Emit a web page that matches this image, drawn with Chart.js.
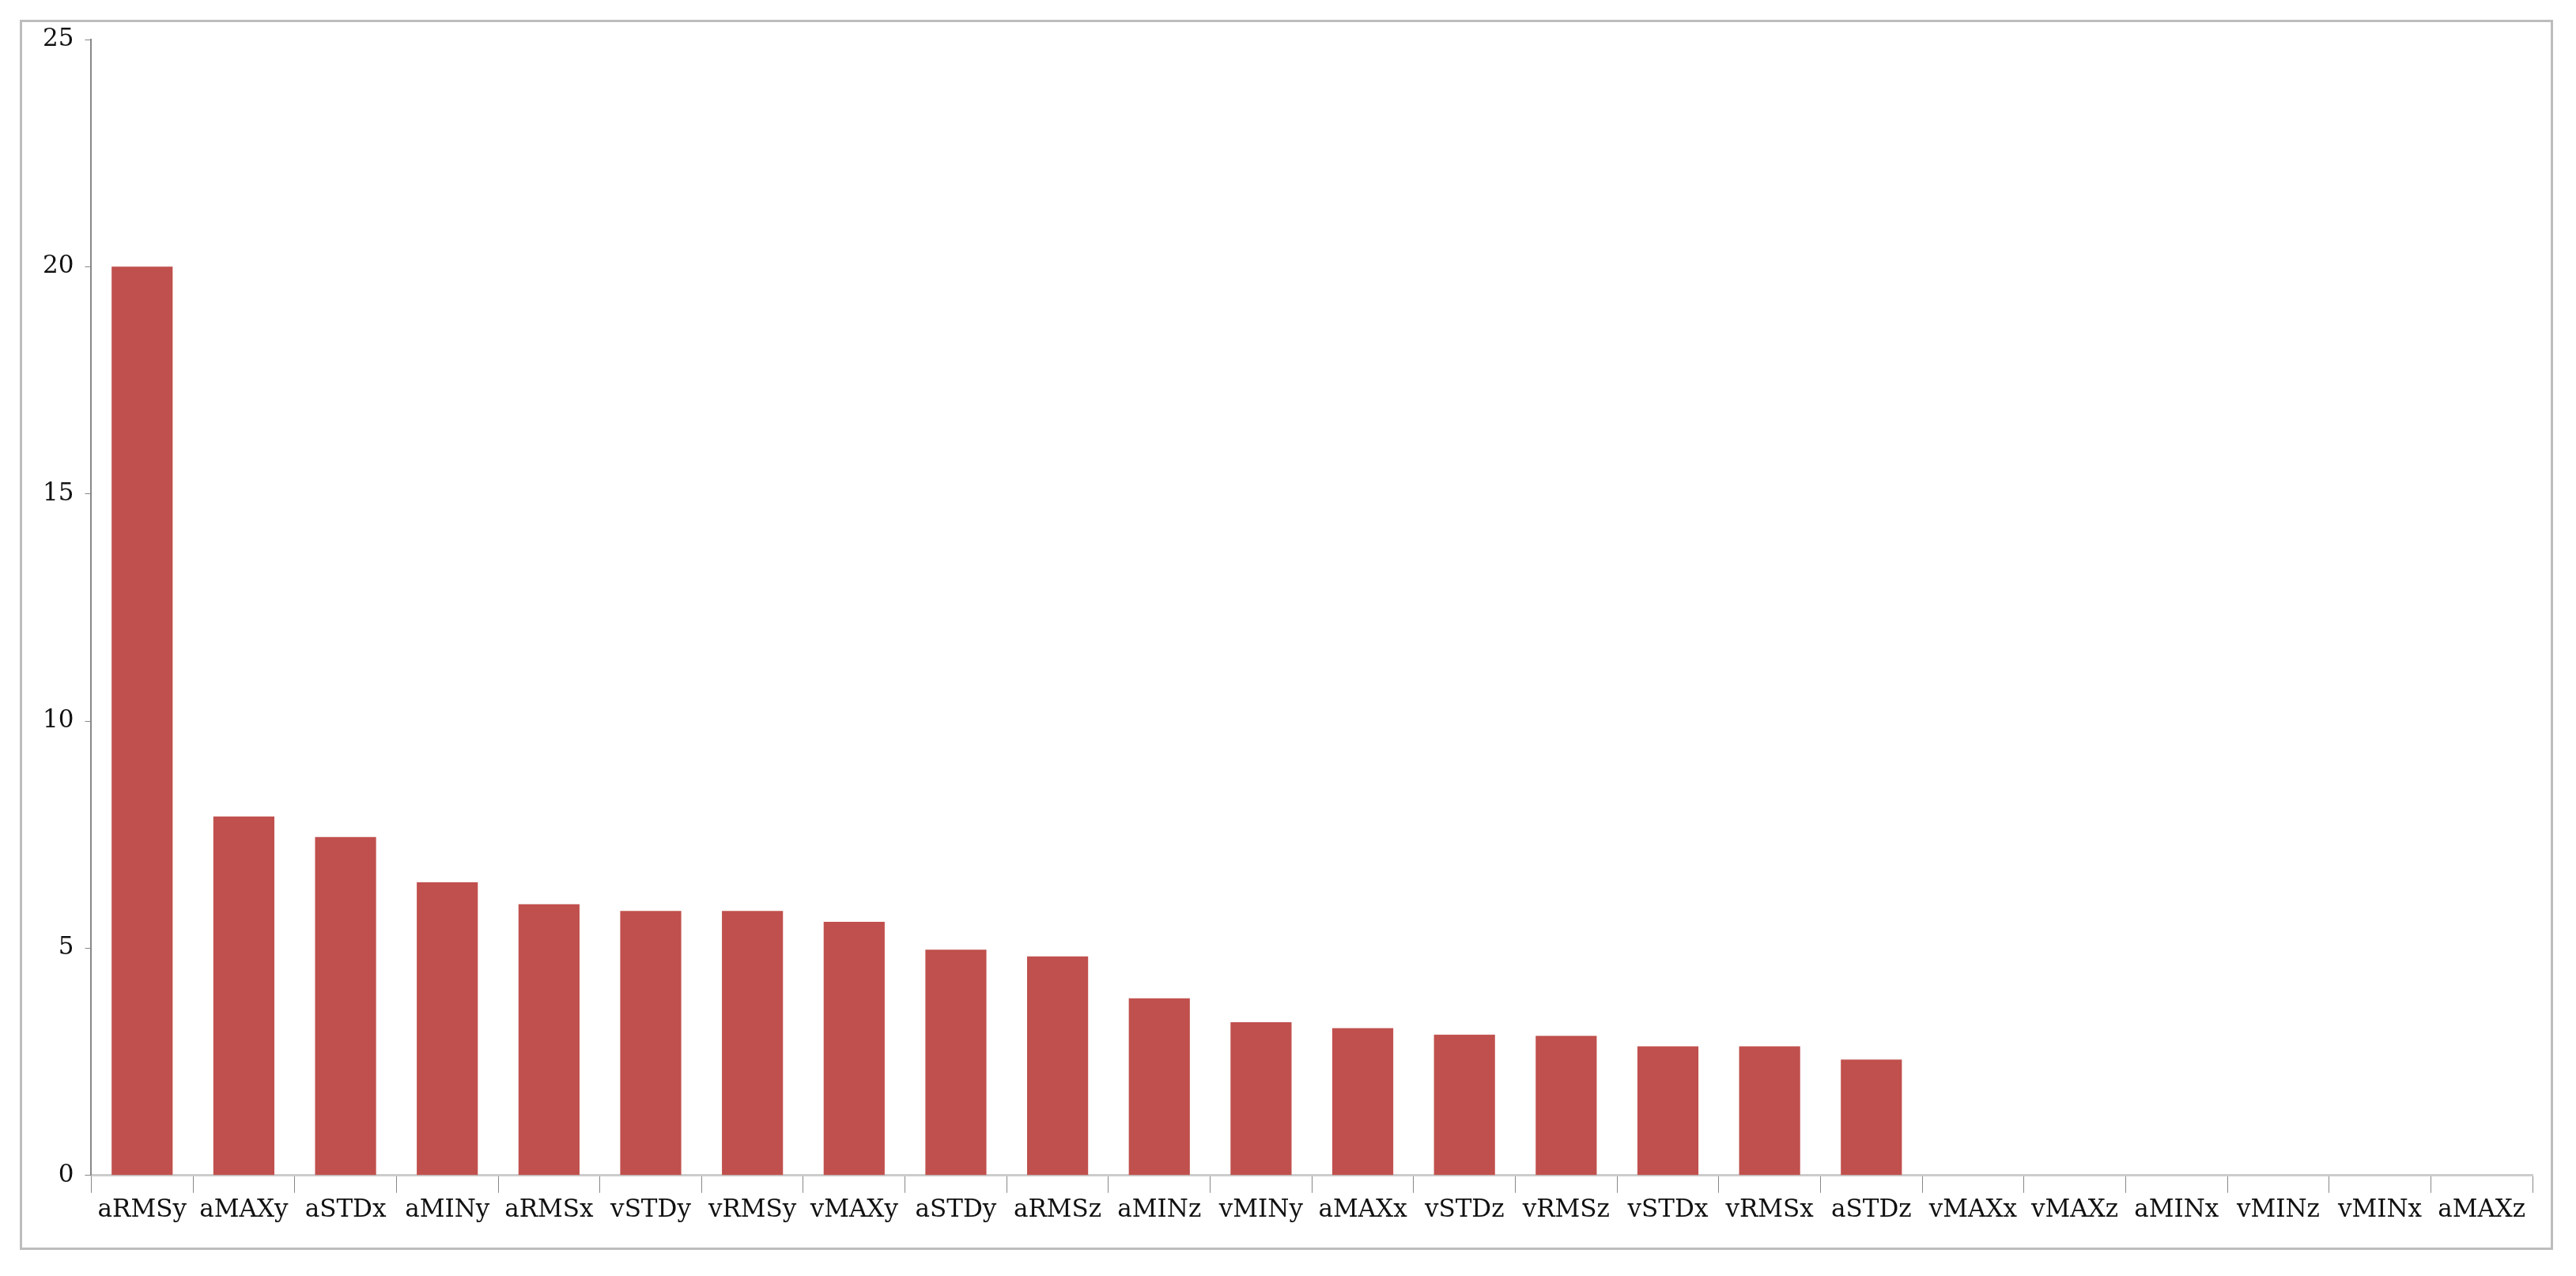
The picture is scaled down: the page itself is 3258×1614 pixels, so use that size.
<!DOCTYPE html>
<html><head>
<script src="https://cdn.jsdelivr.net/npm/chart.js@4"></script>
<style>
body{margin:0;background:#fff;}
#frame{position:absolute;left:25px;top:25px;width:3204px;height:1556px;border:3px solid #bdbdbd;box-sizing:border-box;}
#wrap{position:absolute;left:0;top:0;width:3258px;height:1614px;}
</style></head><body>
<div id="frame"></div>
<div id="wrap"><canvas id="c" width="3258" height="1614"></canvas></div>
<script>
const categories = ["aRMSy","aMAXy","aSTDx","aMINy","aRMSx","vSTDy","vRMSy","vMAXy","aSTDy","aRMSz","aMINz","vMINy","aMAXx","vSTDz","vRMSz","vSTDx","vRMSx","aSTDz","vMAXx","vMAXz","aMINx","vMINz","vMINx","aMAXz"];
const values = [20, 7.9, 7.45, 6.45, 5.97, 5.82, 5.82, 5.58, 4.97, 4.82, 3.9, 3.37, 3.24, 3.1, 3.07, 2.84, 2.84, 2.55, 0, 0, 0, 0, 0, 0];
const yTicks = [0, 5, 10, 15, 20, 25];

const font = { family: "'DejaVu Serif', 'Liberation Serif', serif", size: 31 };
new Chart(document.getElementById("c"), {
  type: "bar",
  data: {
    labels: categories,
    datasets: [{ data: values, backgroundColor: "#c0504d", categoryPercentage: 0.6, barPercentage: 1 }]
  },
  options: {
    responsive: false,
    devicePixelRatio: 1,
    animation: false,
    layout: { padding: { left: 40, right: 55, top: 50, bottom: 60 } },
    plugins: { legend: { display: false }, tooltip: false },
    scales: {
      x: {
        grid: { offset: true, drawOnChartArea: false, tickLength: 22, color: "#888" },
        border: { color: "#ccc", width: 3 },
        ticks: { color: "#111", font: font, maxRotation: 0, autoSkip: false, padding: 4 }
      },
      y: {
        min: 0, max: 25,
        afterBuildTicks: (s) => { s.ticks = yTicks.map(v => ({ value: v })); },
        grid: { drawOnChartArea: false, tickLength: 8, color: "#888" },
        border: { color: "#888", width: 2 },
        ticks: { color: "#111", font: font, padding: 14 }
      }
    }
  }
});
</script>
</body></html>
